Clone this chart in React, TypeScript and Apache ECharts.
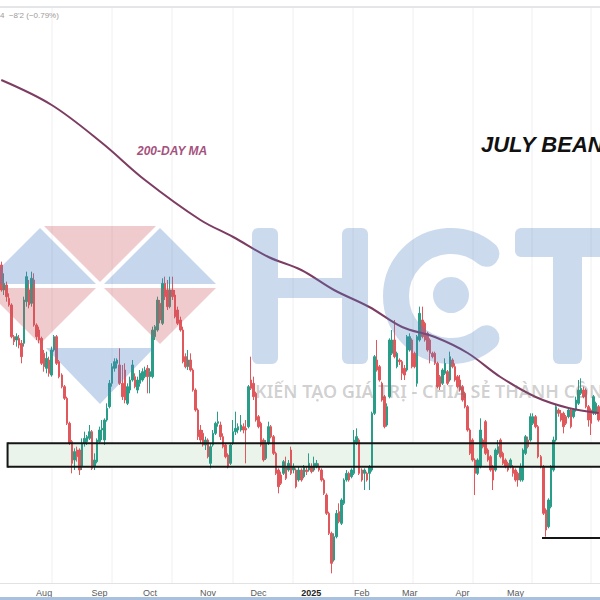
import React, { useEffect, useRef } from 'react';
import * as echarts from 'echarts';

// ---------- categories ----------
const firstDay = '2024-07-09';
const holidays = ['2024-09-02', '2024-11-28', '2024-12-25', '2025-01-01', '2025-01-09', '2025-01-20', '2025-02-17', '2025-04-18', '2025-05-26', '2025-06-19'];
const tickMonths = ['2024-08', '2024-09', '2024-10', '2024-11', '2024-12', '2025-01', '2025-02', '2025-03', '2025-04', '2025-05'];
const tickLabels = ['Aug', 'Sep', 'Oct', 'Nov', 'Dec', '2025', 'Feb', 'Mar', 'Apr', 'May'];

// ---------- candles: [open, close, low, high] (cents/bu) ----------
const jul2024 = [
  [1100.5, 1093, 1092.5, 1101.5], [1093, 1095, 1091.5, 1098], [1094.5, 1091, 1089.5, 1095.5], [1090.5, 1088.5, 1088, 1092],
  [1088.5, 1079, 1078.5, 1089], [1079, 1077.5, 1076.5, 1079.5], [1078, 1079, 1076, 1080], [1078.5, 1076.5, 1075.5, 1079.5],
  [1077, 1073, 1071, 1078], [1077, 1090, 1076, 1091], [1089.5, 1097, 1088, 1098.5], [1093, 1088.5, 1087.5, 1096],
  [1089, 1096.5, 1088, 1098.5], [1096, 1082.5, 1082, 1098], [1082.5, 1079, 1078, 1083], [1081, 1078, 1077, 1082],
  [1078.5, 1071, 1070.5, 1079],
];
const aug2024 = [
  [1074, 1070, 1068.5, 1075], [1069.5, 1072.5, 1068, 1074.5], [1072, 1068, 1067, 1073], [1067.5, 1075, 1067, 1076],
  [1075, 1079, 1074.5, 1079.5], [1079, 1071, 1070.5, 1079.5], [1071.5, 1067, 1066.5, 1072], [1067.5, 1064, 1063.5, 1068],
  [1064, 1060.5, 1060, 1064.5], [1060.5, 1053, 1052.5, 1061], [1053, 1047, 1046.5, 1053.5], [1047.5, 1041, 1038, 1048],
  [1042, 1044.5, 1039, 1045.5], [1045, 1043, 1041.5, 1046], [1045, 1039, 1037.5, 1045.5], [1040, 1047, 1039, 1048.5],
  [1047, 1048.5, 1046, 1050.5], [1047.5, 1049, 1046.5, 1049.5], [1048.5, 1050.5, 1048, 1052.5], [1050.5, 1039.5, 1039, 1051],
  [1040, 1042, 1039, 1044], [1041.5, 1048, 1041, 1048.5],
];
const sep2024 = [
  [1047.5, 1051, 1047, 1052], [1051, 1051.5, 1048, 1054], [1048, 1054, 1046.5, 1054.5], [1054, 1057.5, 1053.5, 1059],
  [1058, 1065, 1057.5, 1066], [1065, 1070, 1064, 1071], [1069.5, 1071.5, 1068.5, 1072.5], [1071, 1072, 1069.5, 1072.5],
  [1070.5, 1065, 1064.5, 1075.5], [1065, 1061, 1060, 1070.5], [1069, 1060, 1059, 1071], [1059, 1064, 1058.5, 1065],
  [1063, 1066, 1062, 1067], [1066, 1070.5, 1065.5, 1072], [1067, 1064, 1063.5, 1068], [1063, 1066, 1062, 1067],
  [1065, 1068, 1064, 1069], [1066, 1068.5, 1065.5, 1069.5], [1067, 1069, 1066.5, 1070], [1069.5, 1067, 1062, 1070.5],
];
const oct2024 = [
  [1067, 1068.5, 1062, 1069.5], [1067, 1081, 1066.5, 1082], [1079, 1082, 1078, 1082.5], [1081, 1090, 1080.5, 1091],
  [1089, 1084, 1083, 1090], [1083, 1095, 1082.5, 1096.5], [1095, 1091, 1090, 1097], [1093, 1088, 1087, 1096],
  [1088, 1093, 1087.5, 1097], [1093, 1091, 1090, 1097], [1091.5, 1085, 1084.5, 1093], [1087, 1083, 1082.5, 1088],
  [1084, 1081, 1080.5, 1085], [1081, 1071.5, 1071, 1082], [1073, 1070, 1069.5, 1074], [1070, 1072, 1069, 1075],
  [1072, 1069, 1068.5, 1074], [1069, 1063, 1062.5, 1069.5], [1063, 1057, 1056.5, 1063.5], [1057, 1049, 1048, 1057.5],
  [1051, 1048, 1047, 1052.5], [1050, 1046.5, 1046, 1051], [1046.5, 1048, 1045, 1049],
];
const nov2024 = [
  [1048, 1043, 1042.5, 1048.5], [1041, 1046, 1039.5, 1047], [1046.5, 1050, 1046, 1051], [1050, 1053, 1049.5, 1053.5],
  [1053, 1053.5, 1052, 1056.5], [1052.5, 1049, 1048, 1053.5], [1049, 1046, 1045.5, 1050], [1046.5, 1043, 1042.5, 1047],
  [1043.5, 1040, 1039.5, 1044], [1041, 1046.5, 1040.5, 1047], [1047, 1050.5, 1046.5, 1054], [1050.5, 1051.5, 1049.5, 1056.5],
  [1051, 1052, 1050, 1053], [1051, 1052.5, 1050.5, 1055.5], [1052, 1051, 1050, 1053], [1051.5, 1051, 1041, 1054],
  [1052, 1064, 1051.5, 1064.5], [1066, 1063.5, 1063, 1073], [1065, 1061, 1060, 1067], [1062, 1054, 1053.5, 1062.5],
];
const dec2024 = [
  [1055, 1052, 1051.5, 1055.5], [1053, 1046.5, 1046, 1053.5], [1048, 1042, 1041.5, 1048.5], [1042.5, 1047, 1042, 1048],
  [1047, 1052, 1046.5, 1053.5], [1052, 1049, 1048.5, 1052.5], [1049, 1044, 1043.5, 1049.5], [1044, 1038, 1037.5, 1044.5],
  [1039, 1034, 1032, 1039.5], [1037.5, 1035, 1034.5, 1038.5], [1038, 1041.5, 1037.5, 1042], [1040, 1036.5, 1036, 1043],
  [1039, 1041, 1038.5, 1042], [1045, 1038, 1037.5, 1046], [1039, 1040, 1038, 1041], [1039, 1034, 1033.5, 1039.5],
  [1036, 1039, 1035.5, 1040], [1039, 1036, 1035.5, 1039.5], [1037, 1040, 1036.5, 1040.5], [1039, 1038.5, 1037.5, 1040],
  [1039, 1041, 1038.5, 1044],
];
const jan2025 = [
  [1040, 1038.5, 1038, 1041], [1039, 1041, 1038.5, 1043], [1040, 1041, 1039.5, 1042], [1040, 1039, 1038.5, 1041],
  [1039, 1036, 1035.5, 1039.5], [1036, 1032, 1031.5, 1036.5], [1031.5, 1026, 1025.5, 1032], [1026, 1020, 1019.5, 1026.5],
  [1020, 1011, 1008, 1020.5], [1012, 1019, 1011.5, 1020], [1019, 1026, 1018.5, 1027], [1026.5, 1023.5, 1023, 1029],
  [1023, 1030, 1022.5, 1030.5], [1029, 1036, 1028.5, 1036.5], [1036, 1038, 1035.5, 1039], [1038, 1036, 1035.5, 1038.5],
  [1037, 1039, 1036.5, 1039.5], [1038, 1048, 1037.5, 1051], [1047, 1049, 1046.5, 1051.5], [1048, 1038, 1037.5, 1048.5],
];
const feb2025 = [
  [1039, 1036, 1035.5, 1039.5], [1038, 1039, 1033, 1039.5], [1038, 1036, 1035.5, 1038.5], [1038, 1040, 1033, 1040.5],
  [1039, 1056, 1038.5, 1056.5], [1056, 1073, 1055.5, 1073.5], [1072, 1069, 1068.5, 1078], [1070, 1066, 1065.5, 1070.5],
  [1065, 1060, 1059.5, 1065.5], [1061, 1052, 1051.5, 1061.5], [1052.5, 1058, 1052, 1059], [1061, 1078, 1060.5, 1078.5],
  [1074, 1078, 1073.5, 1081], [1078, 1073, 1072.5, 1084], [1070, 1074, 1069.5, 1074.5], [1072, 1071.5, 1070.5, 1072.5],
  [1071.5, 1068, 1066, 1072], [1069.5, 1067.5, 1066, 1070.5], [1069, 1079, 1068.5, 1079.5],
];
const mar2025 = [
  [1075, 1079, 1074.5, 1080], [1078, 1070, 1069.5, 1078.5], [1074, 1070, 1069.5, 1074.5], [1065, 1079, 1064, 1079.5],
  [1078, 1086, 1077.5, 1088], [1084, 1079, 1078.5, 1088], [1083, 1078, 1077.5, 1083.5], [1080, 1075, 1074.5, 1080.5],
  [1078, 1074, 1071, 1078.5], [1074, 1073, 1072.5, 1074.5], [1074, 1071, 1070.5, 1074.5], [1071, 1064, 1063.5, 1071.5],
  [1067, 1064, 1063, 1067.5], [1065, 1069, 1064.5, 1069.5], [1068, 1071, 1067.5, 1072.5], [1068.5, 1065, 1064.5, 1069],
  [1066, 1073, 1065.5, 1074.5], [1072, 1070, 1069.5, 1072.5], [1070, 1066, 1065.5, 1071], [1067, 1064, 1063.5, 1067.5],
  [1066, 1063, 1062.5, 1067.5],
];
const apr2025 = [
  [1064, 1060, 1059.5, 1064.5], [1062, 1058, 1057.5, 1062.5], [1058, 1051, 1050.5, 1058.5], [1051, 1044, 1043.5, 1051.5],
  [1048, 1042, 1041.5, 1048.5], [1042, 1038, 1031.5, 1042.5], [1038, 1042, 1037.5, 1042.5], [1040, 1051, 1039.5, 1054.5],
  [1048, 1046, 1045.5, 1048.5], [1053.5, 1044, 1043.5, 1054], [1045, 1042, 1041.5, 1045.5], [1043, 1039, 1038.5, 1043.5],
  [1040, 1036, 1033, 1040.5], [1039, 1045, 1038.5, 1045.5], [1044, 1046, 1043.5, 1048], [1048, 1043, 1042.5, 1048.5],
  [1044, 1041, 1040.5, 1044.5], [1042, 1040, 1039.5, 1042.5], [1041, 1039, 1038.5, 1041.5], [1040, 1042, 1039.5, 1042.5],
  [1040, 1038, 1037, 1040.5],
];
const may2025 = [
  [1039, 1036, 1035.5, 1039.5], [1038, 1036, 1034, 1038.5], [1036, 1040, 1035.5, 1041], [1036, 1045, 1035.5, 1045.5],
  [1044, 1049, 1043.5, 1049.5], [1048, 1046, 1045.5, 1049], [1048, 1055, 1047.5, 1056], [1053, 1055, 1052.5, 1056],
  [1055, 1052, 1051.5, 1055.5], [1052, 1043, 1042.5, 1052.5], [1043, 1040, 1039.5, 1043.5], [1040, 1026, 1025.5, 1040.5],
  [1027, 1021, 1019, 1027.5], [1022, 1030, 1021.5, 1030.5], [1028, 1040, 1027.5, 1040.5], [1039, 1048, 1038.5, 1049],
  [1048, 1058, 1047.5, 1058.5], [1057, 1056, 1055, 1057.5], [1056, 1054, 1053.5, 1057], [1056, 1052, 1050, 1056.5],
  [1055, 1053, 1052.5, 1055.5],
];
const jun2025 = [
  [1055, 1057, 1054.5, 1057.5], [1057, 1052, 1051.5, 1057.5], [1055, 1057, 1054.5, 1057.5], [1057, 1060, 1056.5, 1061],
  [1059, 1063, 1058.5, 1066], [1062, 1063.5, 1061.5, 1066.5], [1063, 1061, 1060.5, 1064], [1063, 1058, 1057.5, 1063.5],
  [1058, 1054, 1052, 1058.5], [1057, 1053, 1049.5, 1057.5], [1056, 1061, 1055.5, 1061.5], [1056, 1059, 1055.5, 1059.5],
  [1058, 1054, 1053.5, 1058.5],
];

// ---------- 200-day moving average (read at selected sessions) ----------
const maIndex = [0, 20, 40, 57, 79, 92, 106, 119, 132, 146, 159, 172, 185, 198, 212, 225, 237];
const maValue = [1156, 1148.5, 1137.1, 1126, 1114, 1108.9, 1102.9, 1099, 1093, 1087.9, 1081.9, 1078.9, 1074.1, 1066.9, 1060.9, 1057.6, 1056.1];

// ---------- annotations ----------
const zoneHigh = 1047;
const zoneLow = 1040;
const zoneStart = 3;
const aprilLow = 1018.6;
const aprilLowStart = 215;
const yMin = 1005.1;
const yMax = 1180;

const UP = '#2a9d88';
const DOWN = '#e0575c';
const MA_COLOR = '#7d3c62';

function tradingDays(start: string, count: number): string[] {
  const out: string[] = [];
  const d = new Date(start + 'T00:00:00Z');
  while (out.length < count) {
    const dow = d.getUTCDay();
    const iso = d.toISOString().slice(0, 10);
    if (dow !== 0 && dow !== 6 && holidays.indexOf(iso) < 0) out.push(iso);
    d.setUTCDate(d.getUTCDate() + 1);
  }
  return out;
}

export default function App() {
  const ref = useRef<HTMLDivElement>(null);
  useEffect(() => {
    document.body.style.margin = '0';
    const chart = echarts.init(ref.current!, null, { renderer: 'svg' });
    const candles = [
      ...jul2024, ...aug2024, ...sep2024, ...oct2024, ...nov2024, ...dec2024,
      ...jan2025, ...feb2025, ...mar2025, ...apr2025, ...may2025, ...jun2025,
    ];
    const dates = tradingDays(firstDay, candles.length);
    const tickAt: Record<number, string> = {};
    dates.forEach((d, i) => {
      const m = d.slice(0, 7);
      const k = tickMonths.indexOf(m);
      if (k >= 0 && (i === 0 || dates[i - 1].slice(0, 7) !== m)) tickAt[i] = tickLabels[k];
    });
    const maData = dates.map((_, i) => {
      const k = maIndex.indexOf(i);
      return k >= 0 ? maValue[k] : null;
    });

    const blue = 'rgba(78,126,196,0.32)';
    const red = 'rgba(206,82,92,0.30)';
    const letter = 'rgba(78,126,196,0.29)';
    const rad = Math.PI / 180;
    const gridXs = [52, 112, 172, 233, 293, 353, 413, 473, 532, 591];

    const graphic: any[] = [
      ...gridXs.map((x) => ({ type: 'line', z: 0, silent: true, shape: { x1: x, y1: 8, x2: x, y2: 583 }, style: { stroke: '#f0f0f0', lineWidth: 1 } })),
      { type: 'line', shape: { x1: 0, y1: 7, x2: 600, y2: 7 }, style: { stroke: '#c9ccd4', lineWidth: 1 }, z: 60 },
      { type: 'text', x: 0, y: 11, z: 60, style: { text: "4  \u22128'2 (\u22120.79%)", font: '8px "Liberation Sans"', fill: '#a09a9a' } },
      { type: 'rect', shape: { x: 0, y: 597, width: 600, height: 3 }, style: { fill: '#a9c0de' }, z: 60 },
      // logo triangles
      { type: 'polygon', z: 50, shape: { points: [[-16, 284], [40, 228], [96, 284]] }, style: { fill: blue } },
      { type: 'polygon', z: 50, shape: { points: [[44, 226], [156, 226], [100, 282]] }, style: { fill: red } },
      { type: 'polygon', z: 50, shape: { points: [[104, 284], [160, 228], [216, 284]] }, style: { fill: blue } },
      { type: 'polygon', z: 50, shape: { points: [[-16, 288], [96, 288], [40, 344]] }, style: { fill: red } },
      { type: 'polygon', z: 50, shape: { points: [[104, 288], [216, 288], [160, 344]] }, style: { fill: red } },
      { type: 'polygon', z: 50, shape: { points: [[46, 348], [154, 348], [100, 404]] }, style: { fill: blue } },
      // H
      { type: 'rect', z: 50, shape: { x: 252, y: 228, width: 26, height: 136, r: 6 }, style: { fill: letter } },
      { type: 'rect', z: 50, shape: { x: 342, y: 228, width: 26, height: 136, r: 6 }, style: { fill: letter } },
      { type: 'rect', z: 50, shape: { x: 278, y: 278, width: 64, height: 20 }, style: { fill: letter } },
      // C
      { type: 'arc', z: 50, shape: { cx: 451, cy: 296, r: 55, startAngle: 50 * rad, endAngle: 310 * rad, clockwise: true }, style: { stroke: letter, lineWidth: 26, lineCap: 'round', fill: 'none' } },
      { type: 'circle', z: 50, shape: { cx: 451, cy: 295, r: 18 }, style: { fill: letter } },
      // T
      { type: 'rect', z: 50, shape: { x: 515, y: 228, width: 104, height: 29, r: 6 }, style: { fill: letter } },
      { type: 'rect', z: 50, shape: { x: 553, y: 257, width: 29, height: 107, r: [0, 0, 6, 6] }, style: { fill: letter } },
      { type: 'text', z: 50, x: 255, y: 382, style: { text: 'KIẾN TẠO GIÁ TRỊ - CHIA SẺ THÀNH CÔNG', font: '600 18px "Noto Sans"', fill: 'rgba(110,110,110,0.32)' } },
      { type: 'text', z: 60, x: 137, y: 145, style: { text: '200-DAY MA', font: 'italic bold 12px "Liberation Sans"', fill: '#a5517e' } },
      { type: 'text', z: 60, x: 481, y: 133, style: { text: 'JULY BEANS', font: 'italic bold 22px "Liberation Sans"', fill: '#111111' } },
    ];

    const zoneRender = (part: 'fill' | 'lines') => (params: any, api: any) => {
      const top = api.coord([api.value(0), api.value(1)]);
      const bot = api.coord([api.value(0), api.value(2)]);
      const half = api.size([1, 0])[0] / 2;
      const x0 = top[0] - half;
      const x1 = params.coordSys.x + params.coordSys.width + 4;
      if (part === 'fill') {
        return { type: 'rect', shape: { x: x0, y: top[1], width: x1 - x0, height: bot[1] - top[1] }, style: { fill: '#eaf4ea' } };
      }
      const st = { stroke: '#151515', lineWidth: 2 };
      return {
        type: 'group',
        children: [
          { type: 'line', shape: { x1: x0, y1: top[1], x2: x1, y2: top[1] }, style: st },
          { type: 'line', shape: { x1: x0, y1: bot[1], x2: x1, y2: bot[1] }, style: st },
          { type: 'line', shape: { x1: x0, y1: top[1] - 1, x2: x0, y2: bot[1] + 1 }, style: st },
        ],
      };
    };

    chart.setOption({
      animation: false,
      backgroundColor: '#ffffff',
      grid: { left: 0, right: 0, top: 0, bottom: 17 },
      xAxis: {
        type: 'category',
        data: dates,
        boundaryGap: true,
        axisLine: { show: true, lineStyle: { color: '#e2e2e2' } },
        axisTick: { show: false },
        splitLine: { show: false },
        axisLabel: {
          interval: (i: number) => tickAt[i] !== undefined,
          formatter: (_v: string, i: number) => (tickAt[i] === '2025' ? '{b|2025}' : tickAt[i] || ''),
          margin: 5,
          fontSize: 9,
          color: '#5a5a5a',
          fontFamily: 'Liberation Sans',
          rich: { b: { fontWeight: 'bold', fontSize: 9, color: '#222', fontFamily: 'Liberation Sans' } },
        },
      },
      yAxis: {
        type: 'value',
        min: yMin,
        max: yMax,
        axisLabel: { show: false },
        axisLine: { show: false },
        axisTick: { show: false },
        splitLine: { show: false },
      },
      graphic,
      series: [
        {
          type: 'custom',
          renderItem: zoneRender('fill'),
          data: [[zoneStart, zoneHigh, zoneLow]],
          encode: { x: 0, y: [1, 2] },
          z: 1,
          silent: true,
        },
        {
          type: 'candlestick',
          data: candles,
          barWidth: 2,
          itemStyle: { color: UP, color0: DOWN, borderColor: UP, borderColor0: DOWN, borderWidth: 1 },
          z: 2,
        },
        {
          type: 'line',
          data: maData,
          connectNulls: true,
          smooth: 0.35,
          symbol: 'none',
          lineStyle: { color: MA_COLOR, width: 2 },
          z: 3,
        },
        {
          type: 'custom',
          renderItem: zoneRender('lines'),
          data: [[zoneStart, zoneHigh, zoneLow]],
          encode: { x: 0, y: [1, 2] },
          z: 4,
          silent: true,
        },
        {
          type: 'custom',
          renderItem: (params: any, api: any) => {
            const p = api.coord([api.value(0), api.value(1)]);
            const half = api.size([1, 0])[0] / 2;
            const x1 = params.coordSys.x + params.coordSys.width + 4;
            return { type: 'line', shape: { x1: p[0] - half, y1: p[1], x2: x1, y2: p[1] }, style: { stroke: '#151515', lineWidth: 2 } };
          },
          data: [[aprilLowStart, aprilLow]],
          encode: { x: 0, y: 1 },
          z: 4,
          silent: true,
        },
      ],
    });
    return () => chart.dispose();
  }, []);
  return <div ref={ref} style={{ width: 600, height: 600 }} />;
}
